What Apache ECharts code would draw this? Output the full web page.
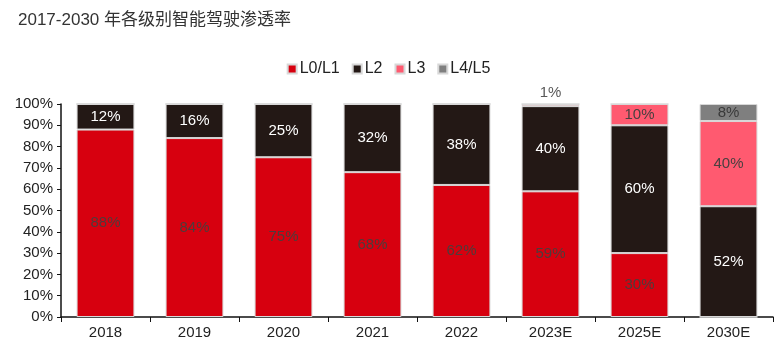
<!DOCTYPE html>
<html><head><meta charset="utf-8">
<script src="https://cdn.jsdelivr.net/npm/echarts@6/dist/echarts.min.js"></script>
<style>html,body{margin:0;padding:0;background:#fff}#c{width:777px;height:348px}</style>
</head><body><div id="c"></div>
<script>
const categories = ['2018','2019','2020','2021','2022','2023E','2025E','2030E'];
const l01 = [88,84,75,68,62,59,30,0];
const l2 = [12,16,25,32,38,40,60,52];
const l3 = [0,0,0,0,0,1,10,40];
const l45 = [0,0,0,0,0,0,0,8];
const yTicks = [0,10,20,30,40,50,60,70,80,90,100];

const font = '"Liberation Sans", Arial, sans-serif';
const border = {borderColor:'#d8d8d8', borderWidth:1};
function lbl(color){
  return {show:true, position:'inside', color:color, fontSize:15, fontFamily:font,
    formatter:p=> p.value>0 ? p.value+'%' : ''};
}
const chart = echarts.init(document.getElementById('c'));
chart.setOption({
  animation:false,
  title:{text:'2017-2030 年各级别智能驾驶渗透率', left:13, top:7,
    textStyle:{fontSize:17, fontWeight:'normal', color:'#333', fontFamily:'"Liberation Sans", "Noto Sans CJK SC", sans-serif'}},
  legend:{top:56, left:'center', itemWidth:9, itemHeight:9, itemGap:12, icon:'rect',
    textStyle:{fontSize:16, color:'#222', fontFamily:font, padding:[0,0,0,-2]},
    data:['L0/L1','L2','L3','L4/L5']},
  grid:{left:61, right:4, top:104, bottom:31},
  xAxis:{type:'category', data:categories,
    axisLine:{lineStyle:{color:'#111', width:1.5}},
    axisTick:{show:true, length:5, lineStyle:{color:'#111'}},
    axisLabel:{fontSize:15, color:'#222', fontFamily:font, margin:8}},
  yAxis:{type:'value', min:0, max:100, interval:10,
    axisLine:{show:true, lineStyle:{color:'#111', width:1.5}},
    axisTick:{show:true, length:4, lineStyle:{color:'#111'}},
    splitLine:{show:false},
    axisLabel:{fontSize:15, color:'#222', fontFamily:font, margin:8, formatter:v=> yTicks.includes(v)? v+'%' : ''}},
  series:[
    {name:'L0/L1', type:'bar', stack:'a', barWidth:'65%', data:l01,
      itemStyle:Object.assign({color:'#d7000f'}, border), label:lbl('#4d3c3c')},
    {name:'L2', type:'bar', stack:'a', data:l2,
      itemStyle:Object.assign({color:'#231815'}, border), label:lbl('#ffffff')},
    {name:'L3', type:'bar', stack:'a',
      data:l3.map((v,i)=> (v===1 ? {value:v, label:{position:'top', distance:4, color:'#595959'}} : v)),
      itemStyle:Object.assign({color:'#ff5a70'}, border), label:lbl('#4a4040')},
    {name:'L4/L5', type:'bar', stack:'a', data:l45,
      itemStyle:Object.assign({color:'#7f7f7f'}, border), label:lbl('#3a3a3a')}
  ]
});
</script></body></html>
